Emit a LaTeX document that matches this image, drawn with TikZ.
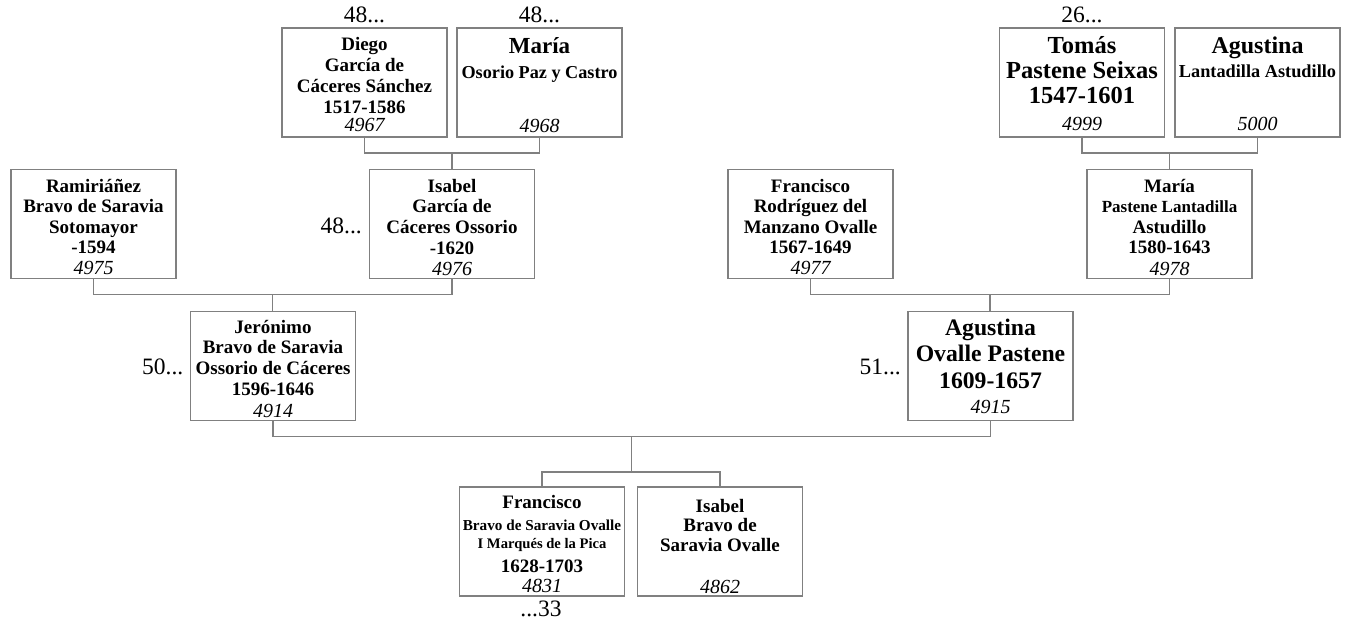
\documentclass[tikz,border=0pt]{standalone}
\usepackage{fontspec}
\setmainfont{Liberation Serif}
\usetikzlibrary{calc}
\definecolor{lc}{RGB}{128,128,128}
\newcommand{\firstl}{\rule{0pt}{20pt}}
\newcommand{\fs}[2]{\fontsize{#1}{#2}\selectfont}
\begin{document}
\lineskiplimit=-100pt
\lineskip=0pt
\begin{tikzpicture}[x=1pt,y=-1pt,
  pbox/.style={draw=lc, line width=1.3pt, minimum width=165pt, minimum height=109pt, inner sep=0pt, outer sep=0pt},
  conn/.style={draw=lc, line width=1.3pt},
  nm/.style={anchor=north, align=center, inner sep=0pt, font=\bfseries\fs{19}{#1}},
  nm/.default=20.5,
  idt/.style={anchor=base, inner sep=0pt, font=\itshape\fs{20}{22}},
  lbl/.style={inner sep=0pt, font=\fs{23.5}{24}}]
\useasboundingbox (0,0) rectangle (1348,625);

% boxes
\node[pbox] (diego) at (364.5,82.5) {};
\node[pbox] (maria) at (539.5,82.5) {};
\node[pbox] (tomas) at (1082,82.5) {};
\node[pbox] (agustina) at (1257.5,82.5) {};
\node[pbox] (ramir) at (93.5,224) {};
\node[pbox] (isabelg) at (452,224) {};
\node[pbox] (franr) at (810.5,224) {};
\node[pbox] (mariap) at (1169.5,224) {};
\node[pbox] (jeron) at (273,366) {};
\node[pbox] (agusto) at (990.5,366) {};
\node[pbox] (franc) at (542,541.5) {};
\node[pbox] (isabelb) at (720,541.5) {};

% names
\node[nm=21] (diego-t) at (364.5,30) {\firstl Diego\\García de\\Cáceres Sánchez\\1517-1586};
\node[nm] (maria-t) at (539.5,33) {\firstl{\fs{23}{25}María}\\[4.5pt]{\fs{18.2}{20}Osorio Paz y Castro}};
\node[nm=25] (tomas-t) at (1082,33) {\fs{24.5}{25}\firstl Tomás\\\fs{24.5}{25}Pastene Seixas\\\fs{24.5}{25}1547-1601};
\node[nm] (agustina-t) at (1257.5,33) {\firstl{\fs{24}{25}Agustina}\\[3.5pt]{\fs{18.3}{20}Lantadilla Astudillo}};
\node[nm=20.4] (ramir-t) at (93.5,172) {\firstl Ramiriáñez\\Bravo de Saravia\\Sotomayor\\-1594};
\node[nm=20.6] (isabelg-t) at (452,172) {\firstl Isabel\\García de\\Cáceres Ossorio\\-1620};
\node[nm=20.4] (franr-t) at (810.5,172) {\firstl Francisco\\Rodríguez del\\Manzano Ovalle\\1567-1649};
\node[nm=20.4] (mariap-t) at (1169.5,172) {\firstl María\\{\fs{17}{20}Pastene Lantadilla}\\Astudillo\\1580-1643};
\node[nm=20.7] (jeron-t) at (273,313) {\firstl Jerónimo\\Bravo de Saravia\\Ossorio de Cáceres\\1596-1646};
\node[nm=26.5] (agusto-t) at (990.5,315) {\fs{23.7}{26.5}\firstl Agustina\\\fs{23.7}{26.5}Ovalle Pastene\\\fs{23.7}{26.5}1609-1657};
\node[nm] (franc-t) at (542,488) {\firstl Francisco\\[1.5pt]{\fs{15.2}{18}Bravo de Saravia Ovalle}\\[-2.5pt]{\fs{14.6}{18}I Marqués de la Pica}\\[3.5pt]1628-1703};
\node[nm=19.5] (isabelb-t) at (720,492) {\firstl Isabel\\Bravo de\\Saravia Ovalle};

% ids
\node[idt] (diego-id) at (364.5,131) {4967};
\node[idt] (maria-id) at (539.5,132) {4968};
\node[idt] (tomas-id) at (1082,130) {4999};
\node[idt] (agustina-id) at (1257.5,130) {5000};
\node[idt] (ramir-id) at (93.5,274.5) {4975};
\node[idt] (isabelg-id) at (452,275) {4976};
\node[idt] (franr-id) at (810.5,274.5) {4977};
\node[idt] (mariap-id) at (1169.5,275) {4978};
\node[idt] (jeron-id) at (273,417) {4914};
\node[idt] (agusto-id) at (990.5,413) {4915};
\node[idt] (franc-id) at (542,592) {4831};
\node[idt] (isabelb-id) at (720,593) {4862};

% labels
\node[lbl, anchor=base] (l1) at (364.5,22) {48...};
\node[lbl, anchor=base] (l2) at (539.5,22) {48...};
\node[lbl, anchor=base] (l3) at (1082,22) {26...};
\node[lbl, anchor=base east] (l4) at (362,233) {48...};
\node[lbl, anchor=base east] (l5) at (183.5,374) {50...};
\node[lbl, anchor=base east] (l6) at (901,374) {51...};
\node[lbl, anchor=base] (l7) at (541,616) {...33};

% connectors
\draw[conn] (diego.south) -- ++(0,16) -| (maria.south);
\coordinate (m1) at ($(diego.south)!0.5!(maria.south)+(0,16)$);
\draw[conn] (m1) -- (m1 |- isabelg.north);
\draw[conn] (tomas.south) -- ++(0,16) -| (agustina.south);
\coordinate (m2) at ($(tomas.south)!0.5!(agustina.south)+(0,16)$);
\draw[conn] (m2) -- (m2 |- mariap.north);
\draw[conn] (ramir.south) -- ++(0,16) -| (isabelg.south);
\coordinate (m3) at ($(ramir.south)!0.5!(isabelg.south)+(0,16)$);
\draw[conn] (m3) -- (m3 |- jeron.north);
\draw[conn] (franr.south) -- ++(0,16) -| (mariap.south);
\coordinate (m4) at ($(franr.south)!0.5!(mariap.south)+(0,16)$);
\draw[conn] (m4) -- (m4 |- agusto.north);
\draw[conn] (jeron.south) -- ++(0,16) -| (agusto.south);
\coordinate (m5) at ($(jeron.south)!0.5!(agusto.south)+(0,16)$);
\draw[conn] (franc.north) -- ++(0,-15) -| (isabelb.north);
\coordinate (m6) at ($(franc.north)!0.5!(isabelb.north)+(0,-15)$);
\draw[conn] (m5) -- (m5 |- m6);
\end{tikzpicture}
\end{document}
